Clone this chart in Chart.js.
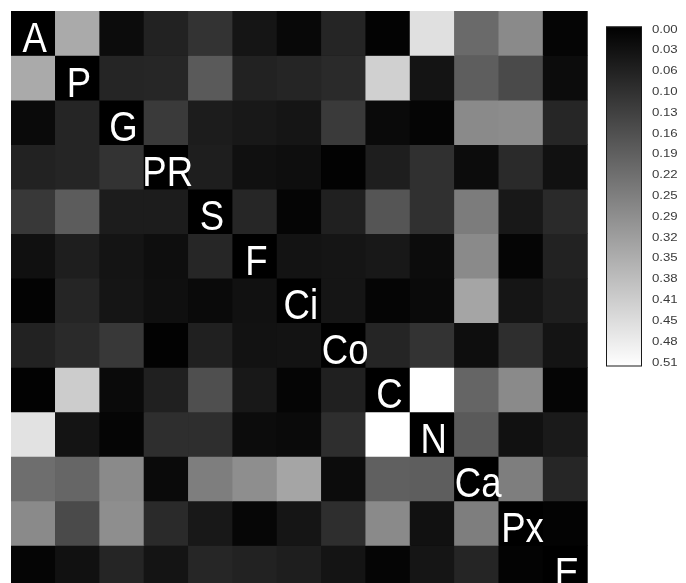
<!DOCTYPE html>
<html>
<head>
<meta charset="utf-8">
<script src="https://cdn.jsdelivr.net/npm/chart.js@4/dist/chart.umd.min.js"></script>
<style>
  html, body { margin: 0; padding: 0; background: #fff; overflow: hidden; }
  #wrap { width: 686px; height: 600px; }
</style>
</head>
<body>
<div id="wrap"><canvas id="heat" width="686" height="600"></canvas></div>
<script>
// variables, same order on both axes
const categories = ['A', 'P', 'G', 'PR', 'S', 'F', 'Ci', 'Co', 'C', 'N', 'Ca', 'Px', 'E'];

// one row per variable
const rowA  = [0, .34, .024, .068, .102, .042, .016, .074, .006, .448, .212, .276, .01];
const rowP  = [.34, 0, .074, .076, .18, .068, .074, .084, .416, .04, .188, .148, .024];
const rowG  = [.02, .074, 0, .116, .056, .048, .042, .116, .02, .01, .276, .28, .076];
const rowPR = [.068, .074, .102, 0, .06, .032, .028, .004, .06, .096, .024, .084, .034];
const rowS  = [.112, .184, .056, .056, 0, .076, .01, .064, .17, .096, .248, .048, .084];
const rowF  = [.032, .06, .04, .028, .076, 0, .038, .042, .048, .024, .276, .01, .068];
const rowCi = [.006, .074, .042, .03, .02, .034, 0, .042, .01, .02, .33, .042, .06];
const rowCo = [.068, .084, .112, .004, .064, .036, .038, 0, .074, .102, .028, .092, .04];
const rowC  = [.004, .408, .02, .064, .158, .048, .01, .064, 0, .51, .202, .276, .01];
const rowN  = [.452, .04, .01, .092, .092, .024, .02, .092, .51, 0, .18, .034, .052];
const rowCa = [.22, .204, .276, .02, .252, .284, .33, .024, .192, .188, 0, .252, .076];
const rowPx = [.276, .148, .284, .084, .048, .012, .042, .092, .276, .034, .252, 0, .006];
const rowE  = [.01, .034, .074, .04, .076, .068, .06, .04, .01, .042, .074, .006, 0];

const rows = [rowA, rowP, rowG, rowPR, rowS, rowF, rowCi, rowCo, rowC, rowN, rowCa, rowPx, rowE];

// colour key
const scaleMax = 0.51;
const keyTicks = ['0.00', '0.03', '0.06', '0.10', '0.13', '0.16', '0.19', '0.22', '0.25',
                  '0.29', '0.32', '0.35', '0.38', '0.41', '0.45', '0.48', '0.51'];

function grey(v) {
  const g = Math.round(Math.min(v / scaleMax, 1) * 255);
  return 'rgb(' + g + ',' + g + ',' + g + ')';
}

const datasets = rows.map((row, r) => ({
  label: categories[r],
  data: row.map(() => [r, r + 1]),
  backgroundColor: row.map(grey),
  borderWidth: 0,
  grouped: false,
  barPercentage: 1,
  categoryPercentage: 1
}));

// black under the grid so no light seams show between cells
const gridBackground = {
  id: 'gridBackground',
  beforeDatasetsDraw(chart) {
    const a = chart.chartArea, ctx = chart.ctx;
    ctx.save();
    ctx.fillStyle = '#000';
    ctx.fillRect(a.left, a.top, a.right - a.left, a.bottom - a.top);
    ctx.restore();
  }
};

// variable names along the diagonal
const diagLabels = {
  id: 'diagLabels',
  afterDatasetsDraw(chart) {
    const ctx = chart.ctx, xs = chart.scales.x, ys = chart.scales.y;
    ctx.save();
    ctx.fillStyle = '#fff';
    ctx.font = '43px "Liberation Sans", Arial, sans-serif';
    ctx.textAlign = 'center';
    ctx.textBaseline = 'alphabetic';
    categories.forEach((name, i) => {
      const x = xs.getPixelForValue(i) + 1.5;
      const y = ys.getPixelForValue(i + 1) - 3.5;
      ctx.save();
      ctx.translate(x, y);
      ctx.scale(0.85, 1);
      ctx.fillText(name, 0, 0);
      ctx.restore();
    });
    ctx.restore();
  }
};

// grey ramp with its tick labels at the right
const colorKey = {
  id: 'colorKey',
  afterDraw(chart) {
    const ctx = chart.ctx;
    const x = 606, y = 26.5, w = 36, h = 340;
    ctx.save();
    const grad = ctx.createLinearGradient(0, y, 0, y + h);
    grad.addColorStop(0, grey(0));
    grad.addColorStop(1, grey(scaleMax));
    ctx.fillStyle = grad;
    ctx.fillRect(x, y, w, h);
    ctx.strokeStyle = '#1a1a1a';
    ctx.lineWidth = 1;
    ctx.strokeRect(x + 0.5, y + 0.5, w - 1, h - 1);

    ctx.fillStyle = '#3a3a3a';
    ctx.font = '11px "Liberation Sans", Arial, sans-serif';
    ctx.textAlign = 'left';
    ctx.textBaseline = 'middle';
    const first = y + 3, last = y + h - 4;
    keyTicks.forEach((t, i) => {
      const ty = first + (last - first) * i / (keyTicks.length - 1);
      ctx.save();
      ctx.translate(652, ty);
      ctx.scale(1.2, 1);
      ctx.fillText(t, 0, 0);
      ctx.restore();
    });
    ctx.restore();
  }
};

new Chart(document.getElementById('heat'), {
  type: 'bar',
  data: { labels: categories, datasets: datasets },
  options: {
    responsive: false,
    animation: false,
    events: [],
    layout: { padding: { left: 11, top: 11, right: 98.5, bottom: 10 } },
    plugins: { legend: { display: false }, tooltip: { enabled: false } },
    scales: {
      x: { display: false, offset: true },
      y: { display: false, min: 0, max: categories.length, reverse: true }
    }
  },
  plugins: [gridBackground, diagLabels, colorKey]
});
</script>
</body>
</html>
